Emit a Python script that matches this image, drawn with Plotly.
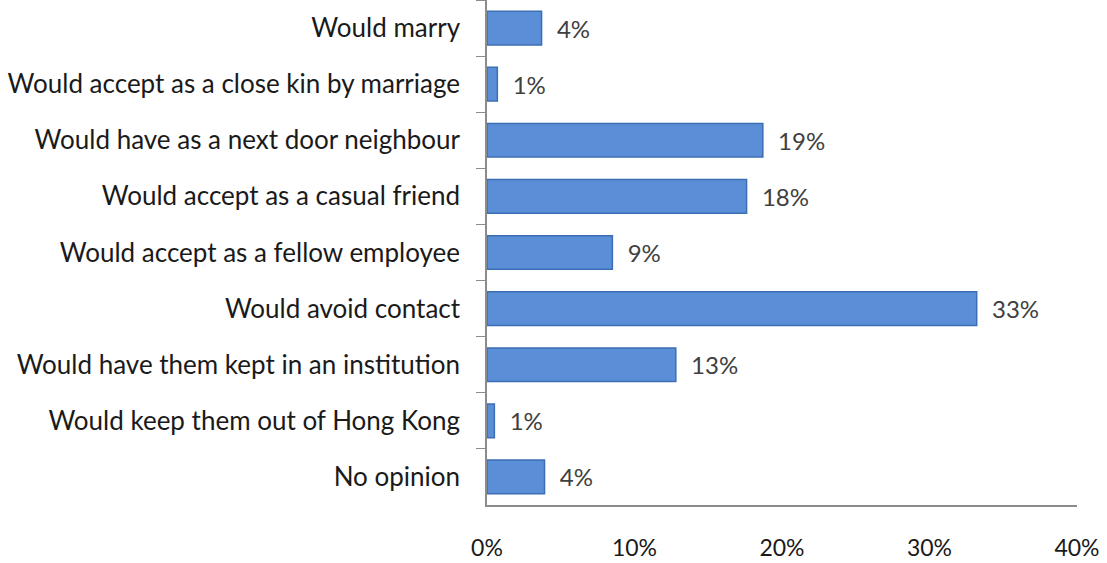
import plotly.graph_objects as go

categories = [
    "Would marry",
    "Would accept as a close kin by marriage",
    "Would have as a next door neighbour",
    "Would accept as a casual friend",
    "Would accept as a fellow employee",
    "Would avoid contact",
    "Would have them kept in an institution",
    "Would keep them out of Hong Kong",
    "No opinion",
]
values = [3.7, 0.7, 18.7, 17.6, 8.5, 33.2, 12.8, 0.5, 3.9]
labels = ["4%", "1%", "19%", "18%", "9%", "33%", "13%", "1%", "4%"]
x_ticks = [0, 10, 20, 30, 40]
x_tick_text = ["0%", "10%", "20%", "30%", "40%"]

FONT = "Lato, Open Sans, sans-serif"

fig = go.Figure()
fig.add_trace(go.Bar(
    y=categories,
    x=values,
    orientation="h",
    width=0.6,
    marker=dict(color="#5A8FD8", line=dict(color="#3C6EB4", width=1.5)),
    text=labels,
    texttemplate="\u00a0\u00a0%{text}",
    textposition="outside",
    textfont=dict(family=FONT, size=24, color="#404040"),
    cliponaxis=False,
))

fig.update_layout(
    width=1107,
    height=563,
    margin=dict(l=487, r=30, t=0, b=58, autoexpand=False),
    paper_bgcolor="white",
    plot_bgcolor="white",
    showlegend=False,
    font=dict(family=FONT, size=24, color="#1a1a1a"),
)
fig.update_yaxes(
    autorange="reversed",
    type="category",
    showline=True,
    linecolor="#8c8c8c",
    linewidth=1.5,
    ticks="outside",
    tickson="boundaries",
    ticklen=9,
    tickcolor="#8c8c8c",
    tickfont=dict(family=FONT, size=26, color="#1a1a1a"),
    ticklabelstandoff=20,
    showgrid=False,
    automargin=False,
)
fig.update_xaxes(
    range=[0, 40],
    tickvals=x_ticks,
    ticktext=x_tick_text,
    showline=True,
    linecolor="#8c8c8c",
    linewidth=1.5,
    showgrid=False,
    zeroline=False,
    ticks="",
    ticklabelstandoff=22,
    tickfont=dict(family=FONT, size=23, color="#1a1a1a"),
    automargin=False,
)

fig.write_html(
    "out.html",
    config={"displayModeBar": False},
    post_script="document.body.style.margin='0';",
)
